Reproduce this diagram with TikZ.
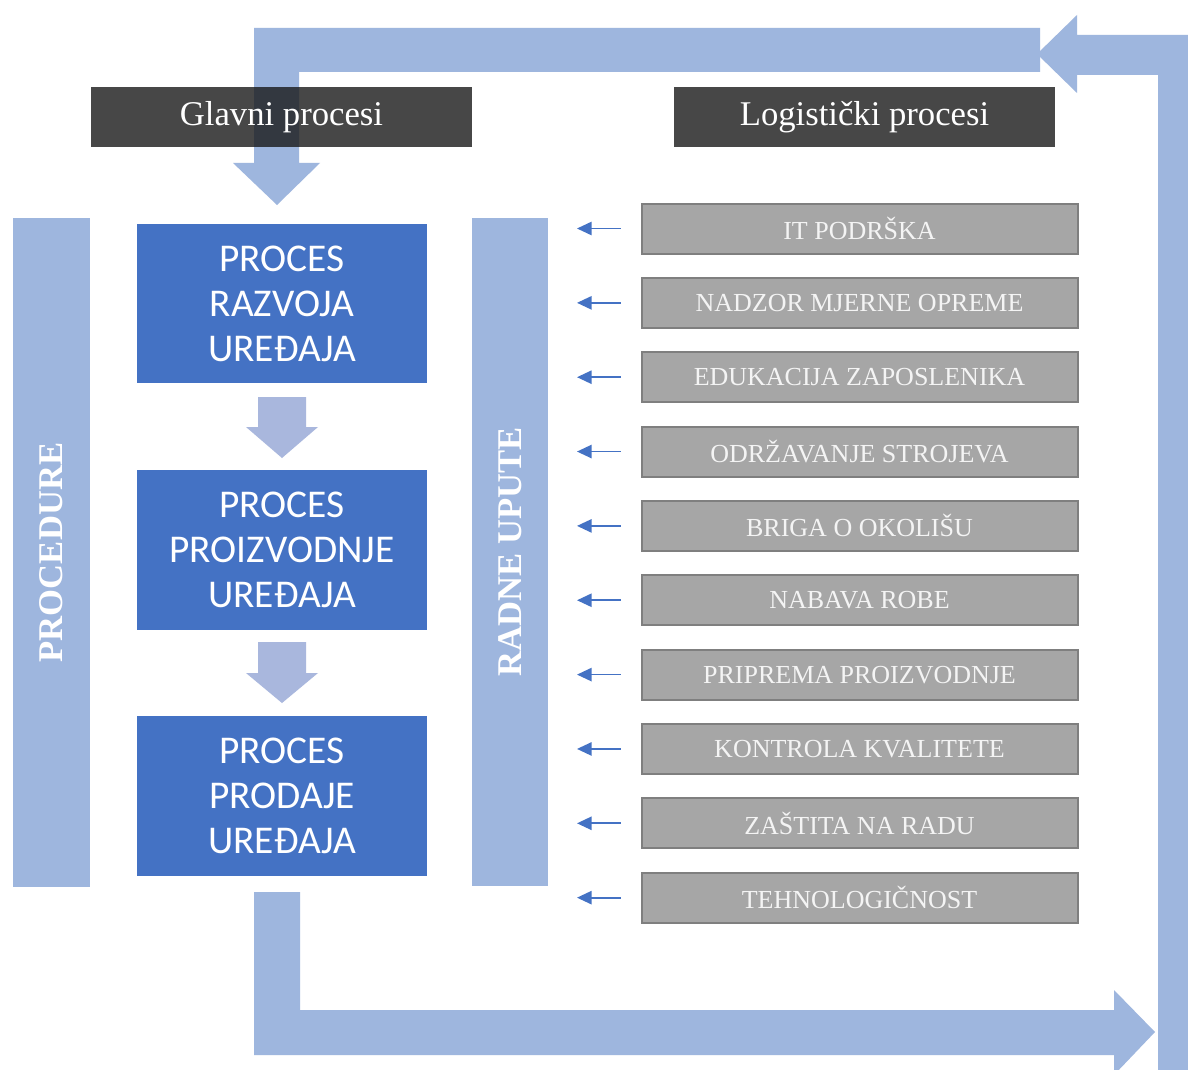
\documentclass[tikz,border=0pt]{standalone}
\usepackage{fontspec}
\setmainfont{Liberation Serif}
\newfontfamily\calibfont{Carlito}
\usetikzlibrary{arrows.meta}
\definecolor{band}{HTML}{9EB6DE}
\definecolor{flow}{HTML}{A9B7DD}
\definecolor{procblue}{HTML}{4472C4}
\definecolor{hdr}{HTML}{191919}
\definecolor{grayfill}{HTML}{A6A6A6}
\definecolor{grayline}{HTML}{7F7F7F}
\definecolor{graytext}{HTML}{F4F4F4}
\begin{document}
\begin{tikzpicture}[x=0.75pt,y=-0.75pt,
  header/.style={fill=hdr,fill opacity=0.8,text opacity=1,text=white,inner sep=0pt,
    minimum width=285.75pt,minimum height=45pt,font=\fontsize{26}{30}\selectfont},
  sidebar/.style={fill=band,inner sep=0pt,minimum width=57.5pt,minimum height=501.5pt},
  sidetext/.style={rotate=90,text=white,font=\bfseries\fontsize{26}{30}\selectfont},
  procbox/.style={fill=procblue,text=white,inner sep=0pt,align=center,
    minimum width=217.5pt,minimum height=119.5pt,
    font=\calibfont\fontsize{29.5}{33.75}\selectfont},
  logbox/.style={fill=grayfill,draw=grayline,line width=1.5pt,text=graytext,inner sep=0pt,
    minimum width=327pt,minimum height=37.5pt,font=\fontsize{19.5}{22}\selectfont},
  inarrow/.style={draw=procblue,line width=1.3pt,-{Triangle[length=11pt,width=10pt]}},
  bigarrow/.style={fill=band},
  flowarrow/.style={fill=flow}]
\useasboundingbox (0,0) rectangle (1188,1070);
\clip (0,0) rectangle (1188,1070);
\fill[white] (0,0) rectangle (1188,1070);

% big return arrows
\path[bigarrow] (1040,28) -- (254,28) -- (254,163) -- (233,163) -- (277,205)
  -- (320,163) -- (299,163) -- (299,72) -- (1040,72) -- cycle;
\path[bigarrow] (1037,54) -- (1077,15) -- (1077,35) -- (1200,35) -- (1200,1080)
  -- (1158,1080) -- (1158,75) -- (1077,75) -- (1077,93) -- cycle;
\path[bigarrow] (254,892) -- (300,892) -- (300,1010) -- (1114,1010) -- (1114,990)
  -- (1155,1032) -- (1114,1075) -- (1114,1055) -- (254,1055) -- cycle;

% headers
\node[header] (glavni) at (281.5,117) {\raisebox{-2pt}{Glavni procesi}};
\node[header] (logist) at (864.5,117) {\raisebox{-2pt}{Logistički procesi}};

% side bars
\node[sidebar] (proc) at (51.5,552.5) {};
\node[sidetext] at (proc.center) {PROCEDURE};
\node[sidebar] (radne) at (510,552) {};
\node[sidetext] at (radne.center) {RADNE UPUTE};

% main process boxes
\node[procbox] (p1) at (282,303.5) {PROCES\\RAZVOJA\\UREĐAJA};
\node[procbox] (p2) at (282,550) {PROCES\\PROIZVODNJE\\UREĐAJA};
\node[procbox] (p3) at (282,796) {PROCES\\PRODAJE\\UREĐAJA};

% flow arrows between boxes
\path[flowarrow] (258,397) -- (306,397) -- (306,427) -- (318,427) -- (282,458)
  -- (246,427) -- (258,427) -- cycle;
\path[flowarrow] (258,642) -- (306,642) -- (306,673) -- (318,673) -- (282,703)
  -- (246,673) -- (258,673) -- cycle;

% logistic boxes
\foreach \i/\t in {0/IT PODRŠKA,1/NADZOR MJERNE OPREME,2/EDUKACIJA ZAPOSLENIKA,
  3/ODRŽAVANJE STROJEVA,4/BRIGA O OKOLIŠU,5/NABAVA ROBE,6/PRIPREMA PROIZVODNJE,
  7/KONTROLA KVALITETE,8/ZAŠTITA NA RADU,9/TEHNOLOGIČNOST}{
  \node[logbox] (l\i) at (859.5,228.5+74.35*\i) {\t};
  \coordinate (t\i) at (577,228.5+74.35*\i);
  \draw[inarrow] ([xshift=-15pt]l\i.west) -- (t\i);
}
\end{tikzpicture}
\end{document}
